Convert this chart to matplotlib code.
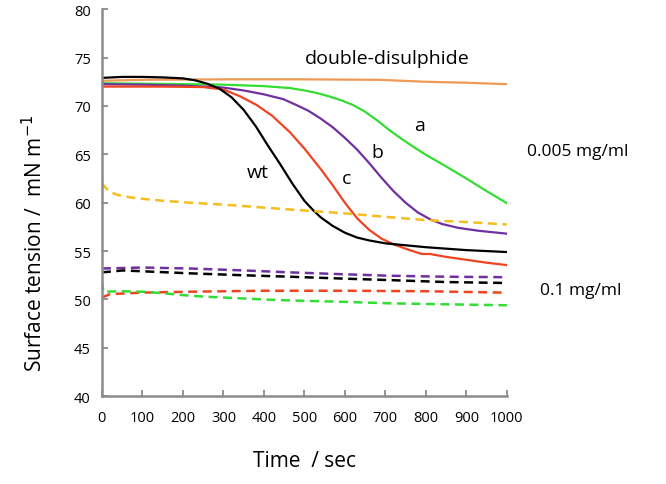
import matplotlib.pyplot as plt

# --- data (time in sec, surface tension in mN/m) ---
t_wt = [0, 50, 100, 150, 200, 230, 260, 290, 320, 350, 380, 410, 440, 470, 500, 520, 540, 570, 600, 630, 660, 700, 750, 800, 900, 1000]
v_wt = [72.9, 73.0, 73.0, 72.95, 72.85, 72.65, 72.3, 71.8, 70.9, 69.6, 67.9, 65.9, 64.0, 62.0, 60.2, 59.3, 58.5, 57.6, 56.9, 56.4, 56.1, 55.8, 55.6, 55.4, 55.1, 54.9]

t_c = [0, 150, 250, 300, 341, 382, 420, 464, 500, 540, 570, 600, 630, 660, 690, 720, 760, 790, 810, 850, 900, 950, 1000]
v_c = [72.0, 72.0, 71.95, 71.7, 71.0, 70.1, 69.0, 67.3, 65.6, 63.5, 61.8, 60.0, 58.4, 57.2, 56.3, 55.7, 55.1, 54.7, 54.7, 54.4, 54.1, 53.8, 53.55]

t_b = [0, 100, 200, 300, 350, 400, 448, 480, 510, 540, 570, 600, 630, 660, 690, 720, 750, 780, 810, 840, 880, 930, 1000]
v_b = [72.25, 72.2, 72.1, 71.9, 71.6, 71.2, 70.7, 70.1, 69.5, 68.7, 67.8, 66.7, 65.5, 64.1, 62.6, 61.2, 60.0, 59.0, 58.3, 57.8, 57.4, 57.1, 56.8]

t_a = [0, 100, 200, 300, 400, 464, 500, 530, 560, 590, 620, 650, 680, 710, 740, 770, 800, 850, 900, 950, 1000]
v_a = [72.35, 72.3, 72.25, 72.2, 72.05, 71.85, 71.6, 71.35, 71.0, 70.6, 70.1, 69.4, 68.5, 67.5, 66.6, 65.75, 64.95, 63.75, 62.5, 61.2, 59.95]

t_dd = [0, 100, 300, 500, 686, 800, 900, 1000]
v_dd = [72.6, 72.7, 72.75, 72.75, 72.7, 72.5, 72.4, 72.25]

# 0.005 mg/ml reference (dashed yellow)
t_y = [0, 8, 20, 40, 70, 100, 150, 217, 300, 464, 600, 711, 800, 900, 1000]
v_y = [62.0, 61.6, 61.1, 60.8, 60.55, 60.4, 60.2, 60.0, 59.8, 59.3, 58.9, 58.5, 58.2, 58.0, 57.75]

# 0.1 mg/ml (dashed)
t_bd = [0, 100, 217, 350, 464, 600, 711, 850, 1000]
v_bd = [53.2, 53.3, 53.2, 53.0, 52.8, 52.6, 52.45, 52.35, 52.3]

t_wtd = [0, 52, 217, 350, 464, 600, 711, 850, 1000]
v_wtd = [52.8, 53.0, 52.7, 52.5, 52.35, 52.15, 52.0, 51.8, 51.7]

t_cd = [0, 20, 94, 217, 400, 600, 800, 1000]
v_cd = [50.2, 50.55, 50.7, 50.8, 50.9, 50.9, 50.85, 50.7]

t_ad = [0, 4, 50, 100, 150, 200, 250, 300, 400, 464, 600, 711, 850, 1000]
v_ad = [51.9, 50.8, 50.85, 50.8, 50.65, 50.45, 50.3, 50.2, 50.0, 49.9, 49.75, 49.6, 49.5, 49.4]

black = '#000000'
red = '#EE4422'
purple = '#7030A0'
green = '#33DD33'
orange = '#EE9955'
yellow = '#F5BE1E'

plt.rcParams['font.family'] = ['Open Sans', 'DejaVu Sans']

fig = plt.figure(figsize=(6.66, 4.85), dpi=100)
ax = fig.add_axes([0.153, 0.181, 0.608, 0.798])

lw = 1.6
ax.plot(t_dd, v_dd, color=orange, lw=lw)
ax.plot(t_a, v_a, color=green, lw=lw)
ax.plot(t_b, v_b, color=purple, lw=lw)
ax.plot(t_c, v_c, color=red, lw=lw)
ax.plot(t_wt, v_wt, color=black, lw=lw)

dlw = 1.8
dsh = (3.6, 2.2)
ax.plot(t_y, v_y, color=yellow, lw=dlw, dashes=dsh)
ax.plot(t_bd, v_bd, color=purple, lw=dlw, dashes=dsh)
ax.plot(t_wtd, v_wtd, color=black, lw=dlw, dashes=dsh)
ax.plot(t_cd, v_cd, color=red, lw=dlw, dashes=dsh)
ax.plot(t_ad, v_ad, color=green, lw=dlw, dashes=dsh)

ax.set_xlim(0, 1000)
ax.set_ylim(40, 80)
ax.set_xticks(range(0, 1001, 100))
ax.set_yticks(range(40, 81, 5))
ax.spines['top'].set_visible(False)
ax.spines['right'].set_visible(False)
for s in ['left', 'bottom']:
    ax.spines[s].set_color('#8C8C8C')
    ax.spines[s].set_linewidth(1.8)
ax.tick_params(direction='in', length=4, width=1.3, color='#8C8C8C', labelsize=10.5, pad=8)
ax.tick_params(axis='x', pad=10)

ax.set_xlabel('Time  / sec', fontsize=15, labelpad=18)
ax.set_ylabel('Surface tension /  mN m$^{-1}$', fontsize=15)
ax.yaxis.set_label_coords(-0.135, 0.398)

ax.text(704, 75.0, 'double-disulphide', fontsize=14, ha='center', va='center')
ax.text(785, 68.0, 'a', fontsize=14, ha='center', va='center')
ax.text(679, 65.2, 'b', fontsize=14, ha='center', va='center')
ax.text(605, 62.6, 'c', fontsize=14, ha='center', va='center')
ax.text(385, 63.2, 'wt', fontsize=14, ha='center', va='center')
ax.text(1049, 65.3, '0.005 mg/ml', fontsize=12.5, ha='left', va='center', clip_on=False)
ax.text(1081, 51.0, '0.1 mg/ml', fontsize=12.5, ha='left', va='center', clip_on=False)

fig.savefig('out.png', dpi=100)
